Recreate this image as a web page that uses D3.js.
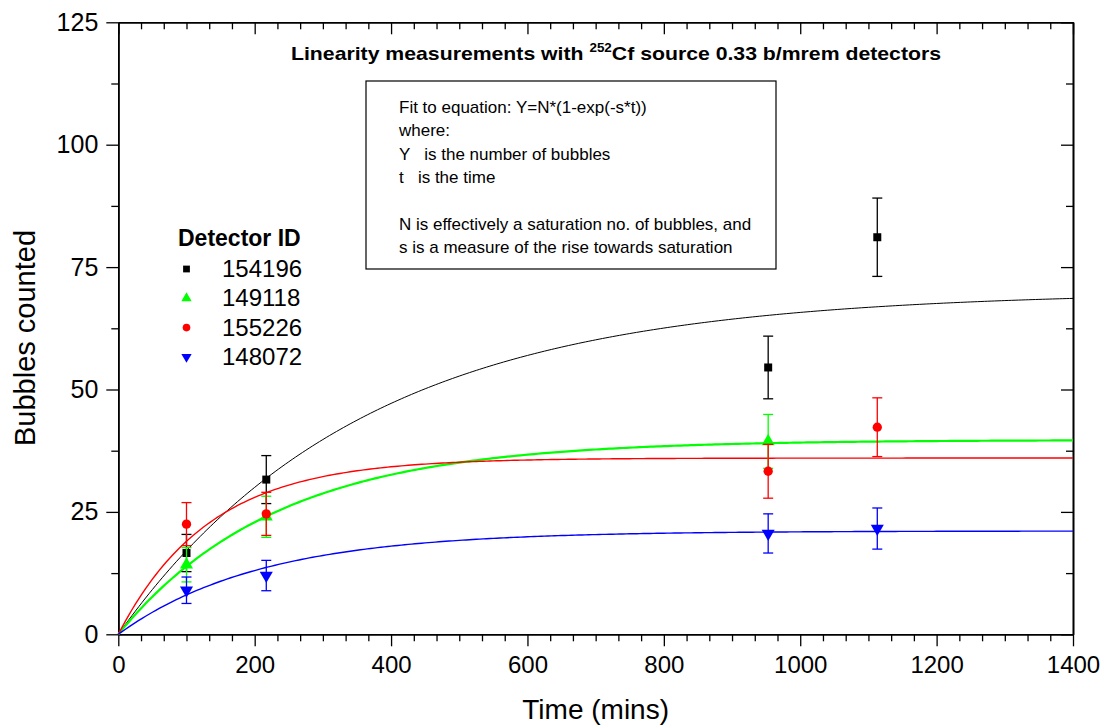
<!DOCTYPE html>
<html><head><meta charset="utf-8">
<script src="https://cdn.jsdelivr.net/npm/d3@7"></script>
<style>
body{margin:0;background:#fff;}
svg{display:block;font-family:"Liberation Sans",Arial,sans-serif;}
</style></head>
<body>
<svg id="c" width="1104" height="727"></svg>
<script>
// ---- data ----
const detectorIds = ["154196", "149118", "155226", "148072"];
const colors = ["#000000", "#00ff00", "#ff0000", "#0000ff"];
const symbols = ["square", "triangle", "circle", "triangleDown"];

const t154196 = [100, 217, 953, 1113];
const y154196 = [16.6, 31.6, 54.5, 81.1];
const e154196 = [3.8, 4.9, 6.4, 8.0];

const t149118 = [100, 217, 953];
const y149118 = [14.2, 24.0, 39.4];
const e149118 = [3.5, 4.2, 5.5];

const t155226 = [100, 217, 953, 1113];
const y155226 = [22.5, 24.6, 33.3, 42.3];
const e155226 = [4.4, 4.4, 5.5, 6.0];

const t148072 = [100, 217, 953, 1113];
const y148072 = [9.0, 12.0, 20.6, 21.6];
const e148072 = [2.7, 3.1, 4.0, 4.2];

// fit parameters Y = N*(1-exp(-s*t))
const fitN = [70, 39.7, 36, 21.1];
const fitS = [0.0028, 0.0043, 0.0075, 0.0048];
const fitWidth = [1, 2.2, 1.4, 1.4];

const xTicks = [0, 200, 400, 600, 800, 1000, 1200, 1400];
const yTicks = [0, 25, 50, 75, 100, 125];

const titleMain = "Linearity measurements with ";
const titleSup = "252";
const titleRest = "Cf source 0.33 b/mrem detectors";
const boxLines = ["Fit to equation: Y=N*(1-exp(-s*t))", "where:", "Y   is the number of bubbles", "t   is the time", "", "N is effectively a saturation no. of bubbles, and", "s is a measure of the rise towards saturation"];

const series = [
  {t: t154196, y: y154196, e: e154196},
  {t: t149118, y: y149118, e: e149118},
  {t: t155226, y: y155226, e: e155226},
  {t: t148072, y: y148072, e: e148072}
];

// ---- layout ----
const L = 118.3, R = 1073, T = 22.3, B = 634.3;
const svg = d3.select("#c");
const x = d3.scaleLinear().domain([0, 1400]).range([L, R]);
const y = d3.scaleLinear().domain([0, 125]).range([B, T]);

const xMinor = d3.range(0, 1400.01, 200/6).filter(v => !xTicks.some(m => Math.abs(m - v) < 1e-6));
const yMinor = d3.range(12.5, 125, 25);

function axisStyle(g){
  g.select(".domain").attr("stroke", "#000").attr("stroke-width", 1.6);
  g.selectAll(".tick line").attr("stroke", "#000").attr("stroke-width", 1.3);
}

// bottom
svg.append("g").attr("transform", `translate(0,${B})`)
  .call(d3.axisBottom(x).tickValues(xTicks).tickSize(12).tickSizeOuter(0).tickPadding(10).tickFormat(d3.format("d")))
  .call(axisStyle)
  .call(g => g.selectAll("text").attr("font-size", 24).attr("fill", "#000").attr("font-family", "Liberation Sans, Arial, sans-serif"));
svg.append("g").attr("transform", `translate(0,${B})`)
  .call(d3.axisBottom(x).tickValues(xMinor).tickSize(7).tickSizeOuter(0).tickFormat(""))
  .call(axisStyle);
// top
svg.append("g").attr("transform", `translate(0,${T})`)
  .call(d3.axisBottom(x).tickValues(xTicks).tickSize(12).tickSizeOuter(0).tickFormat(""))
  .call(axisStyle);
svg.append("g").attr("transform", `translate(0,${T})`)
  .call(d3.axisBottom(x).tickValues(xMinor).tickSize(7).tickSizeOuter(0).tickFormat(""))
  .call(axisStyle);
// left
svg.append("g").attr("transform", `translate(${L},0)`)
  .call(d3.axisLeft(y).tickValues(yTicks).tickSize(12).tickSizeOuter(0).tickPadding(8))
  .call(axisStyle)
  .call(g => g.selectAll("text").attr("font-size", 25).attr("fill", "#000").attr("font-family", "Liberation Sans, Arial, sans-serif"));
svg.append("g").attr("transform", `translate(${L},0)`)
  .call(d3.axisLeft(y).tickValues(yMinor).tickSize(7).tickSizeOuter(0).tickFormat(""))
  .call(axisStyle);
// right
svg.append("g").attr("transform", `translate(${R},0)`)
  .call(d3.axisLeft(y).tickValues(yTicks).tickSize(-12).tickSizeOuter(0).tickFormat(""))
  .call(g => g.selectAll(".tick line").attr("x2", -12))
  .call(axisStyle);
svg.append("g").attr("transform", `translate(${R},0)`)
  .call(d3.axisLeft(y).tickValues(yMinor).tickSize(-7).tickSizeOuter(0).tickFormat(""))
  .call(g => g.selectAll(".tick line").attr("x2", -7))
  .call(axisStyle);

// axis titles
svg.append("text").attr("x", (L + R) / 2).attr("y", 719).attr("text-anchor", "middle")
  .attr("font-size", 28).text("Time (mins)");
svg.append("text").attr("transform", `translate(35,338) rotate(-90)`).attr("text-anchor", "middle")
  .attr("font-size", 29).text("Bubbles counted");

// title
const tt = svg.append("text").attr("x", 291).attr("y", 60).attr("font-size", 19).attr("font-weight", "bold")
  .attr("textLength", 650).attr("lengthAdjust", "spacingAndGlyphs");
tt.append("tspan").text(titleMain);
tt.append("tspan").attr("font-size", 12).attr("dy", -8).text(titleSup);
tt.append("tspan").attr("dy", 8).text(titleRest);

// text box
svg.append("rect").attr("x", 366).attr("y", 81).attr("width", 410).attr("height", 188)
  .attr("fill", "none").attr("stroke", "#000").attr("stroke-width", 1.2);
svg.append("g").selectAll("text").data(boxLines).join("text")
  .attr("x", 399).attr("y", (d, i) => 113 + i * 23.3)
  .attr("font-size", 17).attr("xml:space", "preserve").style("white-space", "pre").text(d => d);

// fit curves
const tGrid = d3.range(0, 1400.01, 5);
fitN.forEach((N, i) => {
  svg.append("path")
    .datum(tGrid.map(t => [t, N * (1 - Math.exp(-fitS[i] * t))]))
    .attr("fill", "none").attr("stroke", colors[i]).attr("stroke-width", fitWidth[i])
    .attr("d", d3.line().x(d => x(d[0])).y(d => y(d[1])));
});

// symbols
const symMap = {
  square: d3.symbol().type(d3.symbolSquare).size(64),
  triangle: d3.symbol().type(d3.symbolTriangle).size(74),
  circle: d3.symbol().type(d3.symbolCircle).size(68),
  triangleDown: d3.symbol().type(d3.symbolTriangle).size(74)
};
function symPath(name){ return symMap[name](); }
function symTransform(name, px, py){
  return name === "triangleDown" ? `translate(${px},${py}) rotate(180)` : `translate(${px},${py})`;
}

// error bars + points
series.forEach((s, i) => {
  const g = svg.append("g");
  s.t.forEach((t, j) => {
    const cx = x(t), lo = y(s.y[j] - s.e[j]), hi = y(s.y[j] + s.e[j]);
    g.append("line").attr("x1", cx).attr("x2", cx).attr("y1", lo).attr("y2", hi).attr("stroke", colors[i]).attr("stroke-width", 1.3);
    [lo, hi].forEach(yy => g.append("line").attr("x1", cx - 5).attr("x2", cx + 5).attr("y1", yy).attr("y2", yy).attr("stroke", colors[i]).attr("stroke-width", 1.3));
    g.append("path").attr("d", symPath(symbols[i])).attr("transform", symTransform(symbols[i], cx, y(s.y[j]))).attr("fill", colors[i]);
  });
});

// legend
svg.append("text").attr("x", 178).attr("y", 246).attr("font-size", 23).attr("font-weight", "bold").text("Detector ID");
detectorIds.forEach((id, i) => {
  const by = 277 + i * 29.3;
  svg.append("path").attr("d", d3.symbol().type(symbols[i] === "square" ? d3.symbolSquare : symbols[i] === "circle" ? d3.symbolCircle : d3.symbolTriangle).size(46)())
    .attr("transform", symTransform(symbols[i], 186.5, by - 8)).attr("fill", colors[i]);
  svg.append("text").attr("x", 222).attr("y", by).attr("font-size", 24).text(id);
});
</script>
</body></html>
